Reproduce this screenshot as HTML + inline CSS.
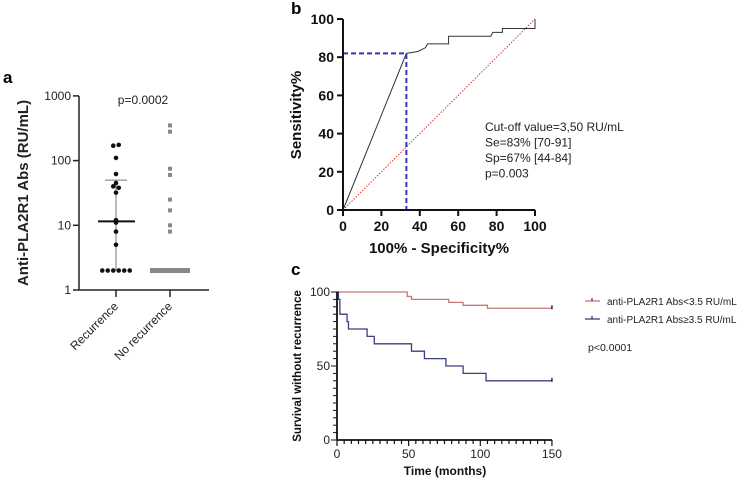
<!DOCTYPE html>
<html><head><meta charset="utf-8"><style>
body{margin:0;background:#fff}
svg{display:block;font-family:"Liberation Sans",Arial,sans-serif}
</style></head><body>
<svg id="s" width="740" height="481" viewBox="0 0 740 481">
<text x="3" y="83" font-size="17" font-weight="bold">a</text>
<text x="291" y="14" font-size="17" font-weight="bold">b</text>
<text x="291" y="275" font-size="17" font-weight="bold">c</text>
<g id="ga"></g>
<g id="gb"></g>
<g id="gc"></g>
</svg>
<script>
// Panel a data
const catsA = ["Recurrence","No recurrence"];
const recVals = [170,175,110,62,45,40,38,32,12,11,8,5,2,2,2,2,2,2];
const noRecVals = [350,280,75,60,25,17,10,8];
const noRecBaseline = 2;
const recMedian = 11.5, recQ1 = 2, recQ3 = 50;
const yTicksA = [1,10,100,1000];
// Panel b data
const rocX = [0,33,39,43,44,55,55,77,78,83,83,96,100,100];
const rocY = [0,82,83,85,87,87,91,91,93,93,95,95,95,100];
const cutX = 33, cutY = 82;
const ticksB = [0,20,40,60,80,100];
// Panel c data
const kmRedT = [0,49,52,78,88,105,150];
const kmRedS = [100,97,95,93,91,89,89];
const kmBlueT = [0,1,2,7,8,21,26,52,61,76,88,104,150];
const kmBlueS = [100,95,85,80,75,70,65,60,55,50,45,40,40];
const ticksCx = [0,50,100,150];
const ticksCy = [0,50,100];

const NS="http://www.w3.org/2000/svg";
function mk(p,tag,at,txt){const e=document.createElementNS(NS,tag);for(const k in at)e.setAttribute(k,at[k]);if(txt!==undefined)e.textContent=txt;p.appendChild(e);return e;}

// ---- Panel a
const ga=document.getElementById('ga');
const ya=v=>290-Math.log10(v)*64.7;
const xa=i=>[116,170][i];
let e=mk(ga,'line',{x1:79,y1:96,x2:79,y2:290,stroke:'#222','stroke-width':1.5});

e=mk(ga,'line',{x1:79,y1:290,x2:209,y2:290,stroke:'#222','stroke-width':1.5});

yTicksA.forEach(t=>{mk(ga,'line',{x1:73,x2:79,y1:ya(t),y2:ya(t),stroke:'#222','stroke-width':1.5});
 e=mk(ga,'text',{x:71,y:ya(t)+4,'font-size':12,'text-anchor':'end',fill:'#222'},t);
 });
catsA.forEach((c,i)=>{mk(ga,'line',{x1:xa(i),x2:xa(i),y1:290,y2:297,stroke:'#222','stroke-width':1.5});
 e=mk(ga,'text',{x:xa(i)+3,y:307,'font-size':12,'text-anchor':'end',fill:'#222',transform:`rotate(-45 ${xa(i)+3} 307)`},c);
 });
e=mk(ga,'text',{x:0,y:0,'font-size':15,'font-weight':'bold','text-anchor':'middle',fill:'#222',transform:'translate(28 193) rotate(-90)'},'Anti-PLA2R1 Abs (RU/mL)');

e=mk(ga,'text',{x:143,y:104,'font-size':12,'text-anchor':'middle',fill:'#222'},'p=0.0002');

mk(ga,'line',{x1:116,x2:116,y1:ya(recQ3),y2:ya(recQ1),stroke:'#777','stroke-width':1});
mk(ga,'line',{x1:105,x2:127,y1:ya(recQ3),y2:ya(recQ3),stroke:'#777','stroke-width':1});
e=mk(ga,'line',{x1:98,x2:135,y1:ya(recMedian),y2:ya(recMedian),stroke:'#111','stroke-width':2});

const cnt={};
recVals.forEach(v=>{const k=Math.round(ya(v)/4);cnt[k]=(cnt[k]||0);const n=recVals.filter(w=>Math.round(ya(w)/4)===k).length;const j=cnt[k]++;
 const dx=(j-(n-1)/2)*5.5;
 e=mk(ga,'circle',{cx:116+dx,cy:ya(v),r:2.3,fill:'#111'});
 });
noRecVals.forEach(v=>{e=mk(ga,'rect',{x:168,y:ya(v)-2,width:4,height:4,fill:'#888'});
 });
e=mk(ga,'rect',{x:150,y:ya(noRecBaseline)-2.5,width:40,height:5,fill:'#888'});


// ---- Panel b
const gb=document.getElementById('gb');
const xb=v=>343+v*1.92, yb=v=>210-v*1.91;
mk(gb,'line',{x1:xb(0),y1:yb(0),x2:xb(100),y2:yb(100),stroke:'#d33','stroke-width':1,'stroke-dasharray':'1.5,1.5'});
let d='';rocX.forEach((x,i)=>{d+=(i?'L':'M')+xb(x)+' '+yb(rocY[i]);});
e=mk(gb,'path',{d,fill:'none',stroke:'#333','stroke-width':1});

e=mk(gb,'path',{d:`M${xb(0)} ${yb(cutY)}H${xb(cutX)}V${yb(0)}`,fill:'none',stroke:'#33c','stroke-width':2,'stroke-dasharray':'5,3'});

mk(gb,'line',{x1:343,y1:yb(100),x2:343,y2:210,stroke:'#111','stroke-width':2});
mk(gb,'line',{x1:343,y1:210,x2:xb(100),y2:210,stroke:'#111','stroke-width':2});
ticksB.forEach(t=>{
 mk(gb,'line',{x1:337,x2:343,y1:yb(t),y2:yb(t),stroke:'#111','stroke-width':2});
 e=mk(gb,'text',{x:334,y:yb(t)+5,'font-size':14,'font-weight':'bold','text-anchor':'end',fill:'#111'},t);
 
 mk(gb,'line',{x1:xb(t),x2:xb(t),y1:210,y2:216,stroke:'#111','stroke-width':2});
 e=mk(gb,'text',{x:xb(t),y:231,'font-size':14,'font-weight':'bold','text-anchor':'middle',fill:'#111'},t);
 });
e=mk(gb,'text',{x:439,y:253,'font-size':15,'font-weight':'bold','text-anchor':'middle',fill:'#111'},'100% - Specificity%');

e=mk(gb,'text',{x:0,y:0,'font-size':15,'font-weight':'bold','text-anchor':'middle',fill:'#111',transform:'translate(301 115) rotate(-90)'},'Sensitivity%');

['Cut-off value=3,50 RU/mL','Se=83% [70-91]','Sp=67% [44-84]','p=0.003'].forEach((s,i)=>{
 e=mk(gb,'text',{x:485,y:131+i*15.5,'font-size':12,fill:'#222'},s);
 });

// ---- Panel c
const gc=document.getElementById('gc');
const xc=t=>337+t*1.433, yc=s=>440-s*1.48;
function km(T,S,col,name){let d=`M${xc(T[0])} ${yc(S[0])}`;for(let i=1;i<T.length;i++){d+=`H${xc(T[i])}V${yc(S[i])}`;}
 const p=mk(gc,'path',{d,fill:'none',stroke:col,'stroke-width':1.3});
 mk(gc,'line',{x1:xc(T[T.length-1]),x2:xc(T[T.length-1]),y1:yc(S[S.length-1])-3,y2:yc(S[S.length-1])+1,stroke:'#111','stroke-width':1.3});}
km(kmRedT,kmRedS,'#c77a74','km-low-antibody-curve');
km(kmBlueT,kmBlueS,'#3b3f80','km-high-antibody-curve');
mk(gc,'line',{x1:337,y1:yc(100),x2:337,y2:440,stroke:'#111','stroke-width':1.8});
mk(gc,'line',{x1:337,y1:440,x2:xc(150),y2:440,stroke:'#111','stroke-width':1.8});
for(let t=0;t<=150;t+=5){mk(gc,'line',{x1:xc(t),x2:xc(t),y1:440,y2:(t%50?444:446),stroke:'#111','stroke-width':1.2});}
for(let s=0;s<=100;s+=5){mk(gc,'line',{x1:337,x2:(s%50?333:331),y1:yc(s),y2:yc(s),stroke:'#111','stroke-width':1});}
ticksCx.forEach(t=>{e=mk(gc,'text',{x:xc(t),y:458,'font-size':12,'text-anchor':'middle',fill:'#222'},t);
 });
ticksCy.forEach(s=>{e=mk(gc,'text',{x:330,y:yc(s)+4,'font-size':12,'text-anchor':'end',fill:'#222'},s);
 });
e=mk(gc,'text',{x:445,y:475,'font-size':12,'font-weight':'bold','text-anchor':'middle',fill:'#111'},'Time (months)');

e=mk(gc,'text',{x:0,y:0,'font-size':11.5,'font-weight':'bold','text-anchor':'middle',fill:'#111',transform:'translate(301 366) rotate(-90)'},'Survival without recurrence');

[['#c77a74','anti-PLA2R1 Abs<3.5 RU/mL',301],['#3b3f80','anti-PLA2R1 Abs≥3.5 RU/mL',319]].forEach(([c,l,y])=>{
 const g=mk(gc,'g',{});
 mk(g,'line',{x1:585,x2:600,y1:y,y2:y,stroke:c,'stroke-width':1.3});
 mk(g,'line',{x1:592,x2:592,y1:y-3,y2:y,stroke:'#111','stroke-width':1});
 mk(g,'text',{x:607,y:y+4,'font-size':10,fill:'#222'},l);});
e=mk(gc,'text',{x:588,y:351,'font-size':10.5,fill:'#222'},'p<0.0001');

</script>
</body></html>
